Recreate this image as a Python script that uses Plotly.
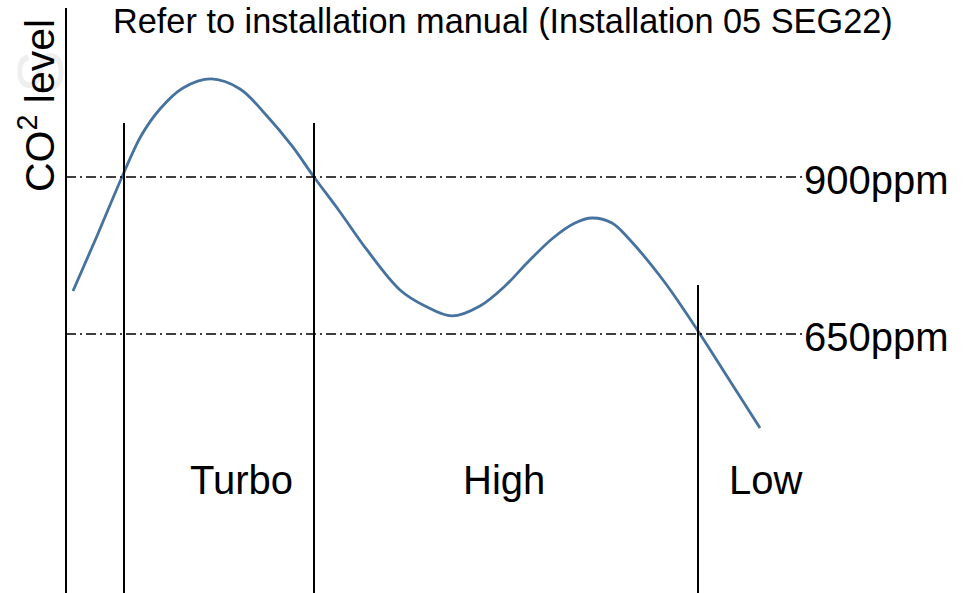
import plotly.graph_objects as go

# CO2 curve (time units, ppm)
curve_t = [73, 97, 122, 141, 160, 183, 211, 240, 267, 292, 314, 340, 367, 400,
           425, 452, 480, 505, 527, 553, 575, 592, 612, 630, 663, 680, 700, 730, 760]
curve_ppm = [718.5, 806.1, 900.0, 965.3, 1008.3, 1041.7, 1056.1, 1040.1, 997.1, 949.4,
             900.0, 844.3, 783.8, 720.1, 694.6, 678.7, 694.6, 726.4, 763.1, 802.9,
             826.8, 834.7, 826.8, 799.7, 736.0, 697.8, 650.0, 575.2, 500.3]

thresholds = [900, 650]
threshold_labels = ["900ppm", "650ppm"]

boundary_t = [124, 314, 698]
boundary_top = [986.0, 986.0, 728.0]

mode_labels = ["Turbo", "High", "Low"]
mode_t = [241, 504, 765]
mode_ppm = 417.5

axis_t = 66
axis_top = 1169
title_text = "Refer to installation manual (Installation 05 SEG22)"

T_MIN, T_MAX = 0, 973
P_MIN, P_MAX = 237.6, 1181.8
LINE_END = 806

FONT = "Liberation Sans, Arial, Helvetica, sans-serif"

fig = go.Figure()
fig.add_trace(go.Scatter(x=curve_t, y=curve_ppm, mode="lines",
                         line=dict(color="#45729f", width=2.8, shape="spline", smoothing=1.0),
                         hoverinfo="skip", showlegend=False))

shapes = []
shapes.append(dict(type="line", xref="x", yref="y", x0=axis_t, x1=axis_t,
                   y0=P_MIN - 20, y1=axis_top, line=dict(color="black", width=2)))
for bt, top in zip(boundary_t, boundary_top):
    shapes.append(dict(type="line", xref="x", yref="y", x0=bt, x1=bt,
                       y0=P_MIN - 20, y1=top, line=dict(color="black", width=2)))
for th in thresholds:
    shapes.append(dict(type="line", xref="x", yref="y", x0=axis_t, x1=LINE_END,
                       y0=th, y1=th, line=dict(color="black", width=1.4,
                                               dash="10px,4px,2px,4px")))

annotations = []
# faint watermark glyph
annotations.append(dict(x=41, y=1067, xref="x", yref="y", text="S", textangle=-90,
                        showarrow=False, xanchor="center", yanchor="middle",
                        font=dict(size=64, color="#efefef", family=FONT)))
for th, lab in zip(thresholds, threshold_labels):
    annotations.append(dict(x=LINE_END - 4, y=th, xref="x", yref="y", text=lab,
                            showarrow=False, xanchor="left", yanchor="middle",
                            yshift=-3, font=dict(size=40, color="black", family=FONT)))
for lab, t in zip(mode_labels, mode_t):
    annotations.append(dict(x=t, y=mode_ppm, xref="x", yref="y", text=lab,
                            showarrow=False, xanchor="center", yanchor="middle",
                            font=dict(size=40, color="black", family=FONT)))
annotations.append(dict(x=503, y=P_MAX, xref="x", yref="y", text=title_text,
                        showarrow=False, xanchor="center", yanchor="top", yshift=0,
                        font=dict(size=34.3, color="black", family=FONT)))
annotations.append(dict(x=37, y=1013, xref="x", yref="y", text="CO<sup>2</sup> level",
                        textangle=-90, showarrow=False, xanchor="center", yanchor="middle",
                        font=dict(size=41, color="black", family=FONT)))

fig.update_layout(
    width=973, height=593,
    margin=dict(l=0, r=0, t=0, b=0),
    paper_bgcolor="white", plot_bgcolor="white",
    xaxis=dict(range=[T_MIN, T_MAX], visible=False, fixedrange=True),
    yaxis=dict(range=[P_MIN, P_MAX], visible=False, fixedrange=True),
    shapes=shapes, annotations=annotations, showlegend=False,
)

fig.write_html("out.html", config={"displayModeBar": False},
               post_script="document.body.style.margin='0px';document.body.style.overflow='hidden';")
